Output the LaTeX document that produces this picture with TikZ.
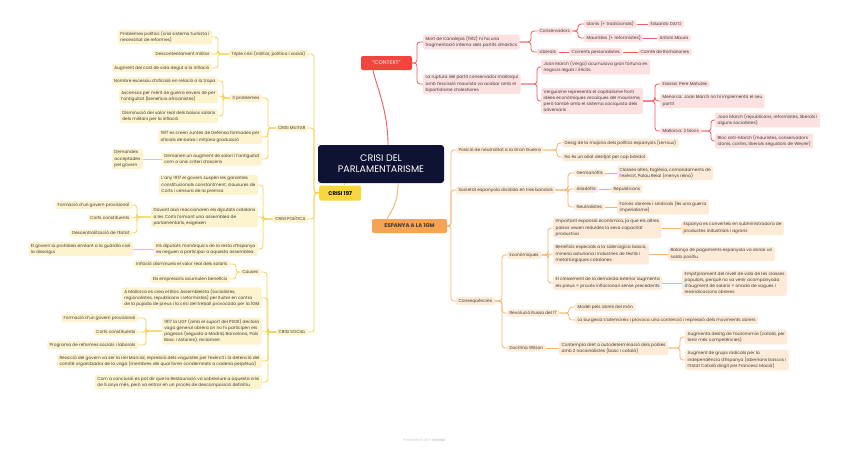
\documentclass[tikz,border=0pt]{standalone}
\usepackage{fontspec}
\setmainfont{Poppins}
\definecolor{txt}{HTML}{3B3B3B}
\definecolor{ylline}{HTML}{F6D04D}
\definecolor{ylfill}{HTML}{FDF3CF}
\definecolor{ylmain}{HTML}{F8D63E}
\definecolor{rdline}{HTML}{F25A5A}
\definecolor{rdfill}{HTML}{FDE0E0}
\definecolor{rdmain}{HTML}{F2453D}
\definecolor{orline}{HTML}{F7B267}
\definecolor{orfill}{HTML}{FDEBD7}
\definecolor{ormain}{HTML}{F6A354}
\definecolor{navy}{HTML}{0E1233}
\tikzset{
  base/.style={rounded corners=2pt, inner xsep=2.4pt, inner ysep=1.8pt, align=left, text=txt,
    font=\fontsize{4.3}{6.2}\selectfont},
  yb/.style={base, fill=ylfill},
  rb/.style={base, fill=rdfill},
  ob/.style={base, fill=orfill},
  L/.style={anchor=east},
  R/.style={anchor=west},
  yl/.style={draw=ylline, line width=0.8pt, rounded corners=3pt},
  rl/.style={draw=rdline, line width=0.8pt, rounded corners=3pt},
  ol/.style={draw=orline, line width=0.8pt, rounded corners=3pt},
}
\begin{document}
\begin{tikzpicture}[x=1pt,y=-1pt]
\useasboundingbox[fill=white] (0,0) rectangle (848,451);
% ---------- main topics
\node[fill=navy, text=white, rounded corners=3pt, minimum width=126pt, minimum height=38pt, align=center,
  font=\fontsize{9.5}{11}\selectfont] (C) at (381,164) {CRISI DEL\\PARLAMENTARISME};
\node[base, fill=ylmain, text=black, anchor=west, minimum width=42pt, minimum height=15pt, align=center,
  font=\fontsize{5.4}{6}\bfseries] (Y) at (319,193) {CRISI 197};
\node[base, fill=rdmain, text=white, minimum width=51pt, minimum height=14pt, align=center,
  font=\fontsize{5.4}{6}\selectfont] (CT) at (386.5,63) {“CONTEXT”};
\node[base, fill=ormain, text=txt, minimum width=75pt, minimum height=14pt, align=center,
  font=\fontsize{5.4}{6}\bfseries] (ES) at (409.5,226) {ESPANYA A LA 1GM};
\coordinate (Cr) at (388,183);
\coordinate (Ce) at (398,183);
\coordinate (Cy) at (344,183);
\coordinate (Eend) at (387,219);
\draw[rdline, line width=0.9pt] (C.north -| Cr) .. controls (388,110) and (376,85) .. (CT.south -| 373,0);
\draw[orline, line width=0.9pt] (Ce) .. controls (398,203) and (392,210) .. (Eend);
\draw[ylline, line width=0.9pt] (Cy) -- (Y.north -| Cy);

% ---------- LEFT (yellow)
\node[yb,L] (T1) at (308,54) {Triple crisi (militar, política i social)};
\node[yb,L] (M) at (308,128) {CRISI MILITAR};
\node[yb,L] (P) at (308,219) {CRISI POLÍTICA};
\node[yb,L] (S) at (308,332) {CRISI SOCIAL};
\foreach \c in {T1,M,P,S} \draw[yl] (\c.east) -- ++(6,0) |- (Y.west);

\node[yb,L] (T1a) at (212,37) {Problemes polítics (crisi sistema turnista i\\necessitat de reformes)};
\node[yb,L] (T1b) at (212,54) {Descontentament militar};
\node[yb,L] (T1c) at (212,68) {Augment del cost de vida degut a la inflació};
\foreach \c in {T1a,T1b,T1c} \draw[yl] (\c.east) -- ++(6,0) |- (T1.west);

\node[yb,L] (M1) at (262,98) {3 problemes};
\node[yb,L] (M2) at (262,137) {1917 es creen Juntes de Defensa formades per\\oficials de baixa i mitjana graduació};
\node[yb,L] (M3) at (262,159) {Demanen un augment de salari i l'antiguitat\\com a únic criteri d'ascens};
\foreach \c in {M1,M2,M3} \draw[yl] (\c.east) -- ++(6,0) |- (M.west);

\node[yb,L] (M1a) at (218,81) {Nombre excessiu d'oficials en relació a la tropa};
\node[yb,L] (M1b) at (218,96) {Ascensos per mèrit de guerra envers de per\\l'antiguitat (beneficia africanistes)};
\node[yb,L] (M1c) at (218,116) {Disminució del valor real dels baixos salaris\\dels militars per la inflació};
\foreach \c in {M1a,M1b,M1c} \draw[yl] (\c.east) -- ++(5,0) |- (M1.west);

\node[yb,L] (M3a) at (143,159) {Demandes\\acceptades\\pel govern};
\draw[yl] (M3a.east) -- (M3.west);

\node[yb,L] (P1) at (258,185) {L'any 1917 el govern suspèn les garanties\\constitucionals constantment, clausures de\\Corts i censura de la premsa};
\node[yb,L] (P2) at (258,217) {Davant això reaccionaren els diputats catalans\\a les Corts formant una assemblea de\\parlamentaris, exigeixen};
\node[yb,L] (P3) at (258,249) {Els diputats monàrquics de la resta d'Espanya\\es neguen a participar a aquesta assemblea};
\foreach \c in {P1,P2,P3} \draw[yl] (\c.east) -- ++(5,0) |- (P.west);

\node[yb,L] (P2a) at (132,205) {Formació d'un govern provisional};
\node[yb,L] (P2b) at (132,218) {Corts constituents};
\node[yb,L] (P2c) at (132,233) {Descentralització de l'Estat};
\foreach \c in {P2a,P2b,P2c} \draw[yl] (\c.east) -- ++(5,0) |- (P2.west);

\node[yb,L] (P3a) at (133,249) {El govern la prohibeix enviant a la guàrdia civil\\la dissolgui};
\draw[yl] (P3a.east) -- (P3.west);

\node[yb,L] (S1) at (261,272) {Causes};
\node[yb,L] (S2) at (262,298) {A Mallorca es crea el Bloc Assembleista (socialistes,\\regionalistes, republicans i reformistes) per lluitar en contra\\de la pujada de preus i la crisi del treball provocada per la 1GM};
\node[yb,L] (S3) at (262,331) {1917 la UGT (amb el suport del PSOE) declara\\vaga general obrera on no hi participen els\\pagesos (seguida a Madrid, Barcelona, País\\Basc i Astúries), reclamen:};
\node[yb,L] (S4) at (262,361) {Reacció del govern va ser la Llei Marcial, repressió dels vaguistes per l'exèrcit i la detenció del\\comitè organitzador de la vaga (membres del qual foren condemnats a cadena perpètua)};
\node[yb,L] (S5) at (262,382) {Com a conclusió es pot dir que la Restauració va sobreviure a aquesta crisi\\de 5 anys més, però va entrar en un procés de descomposició definitiu};
\foreach \c in {S1,S2,S3,S4,S5} \draw[yl] (\c.east) -- ++(6,0) |- (S.west);

\node[yb,L] (S1a) at (230,264) {Inflació disminueix el valor real dels salaris};
\node[yb,L] (S1b) at (230,279) {Els empresaris acumulen beneficis};
\foreach \c in {S1a,S1b} \draw[yl] (\c.east) -- ++(6,0) |- (S1.west);

\node[yb,L] (S3a) at (138,318) {Formació d'un govern provisional};
\node[yb,L] (S3b) at (138,332) {Corts constituents};
\node[yb,L] (S3c) at (138,345) {Programa de reformes socials i laborals};
\foreach \c in {S3a,S3b,S3c} \draw[yl] (\c.east) -- ++(8,0) |- (S3.west);

% ---------- RIGHT top (red)
\node[rb,R] (R1) at (423,42) {Mort de Canalejas (1912) hi ha una\\fragmentació interna dels partits dinàstics};
\node[rb,R] (R2) at (423,84) {La ruptura del partit conservador mallorquí\\amb l'escissió maurista va acabar amb el\\bipartidisme d'aleshores};
\foreach \c in {R1,R2} \draw[rl] (\c.west) -- ++(-6,0) |- (CT.east);

\node[rb,R] (R1a) at (537,31) {Conservadors};
\node[rb,R] (R1b) at (537,52) {Liberals};
\foreach \c in {R1a,R1b} \draw[rl] (\c.west) -- ++(-6,0) |- (R1.east);

\node[rb,R] (R1a1) at (584,24) {Idonis (+ tradicionals)};
\node[rb,R] (R1a2) at (584,38) {Mauristes (+ reformistes)};
\foreach \c in {R1a1,R1a2} \draw[rl] (\c.west) -- ++(-6,0) |- (R1a.east);
\node[rb,R] (R1a1x) at (648,24) {Eduardo DATO};
\draw[rl] (R1a1.east) -- (R1a1x.west);
\node[rb,R] (R1a2x) at (657,38) {Antoni Maura};
\draw[rl] (R1a2.east) -- (R1a2x.west);
\node[rb,R] (R1b1) at (569,52) {Corrents personalistes};
\draw[rl] (R1b.east) -- (R1b1.west);
\node[rb,R] (R1b2) at (638,52) {Comte de Romanones};
\draw[rl] (R1b1.east) -- (R1b2.west);

\node[rb,R] (R2a) at (541,67) {Joan March (Verga) acumulava gran fortuna en\\negocis legals i il·lícits.};
\node[rb,R] (R2b) at (541,101) {Verguisme representa el capitalisme front\\idees econòmiques arcaiques del maurisme,\\però també amb el sistema caciquista dels\\adversaris};
\foreach \c in {R2a,R2b} \draw[rl] (\c.west) -- ++(-4,0) |- (R2.east);

\node[rb,R] (R2b1) at (660,84) {Eivissa: Pere Matutes};
\node[rb,R] (R2b2) at (660,101) {Menorca: Joan March no hi implementa el seu\\partit};
\node[rb,R] (R2b3) at (660,131) {Mallorca: 2 blocs};
\foreach \c in {R2b1,R2b2,R2b3} \draw[rl] (\c.west) -- ++(-5,0) |- (R2b.east);

\node[rb,R] (R2b3a) at (715,120) {Joan March (republicans, reformistes, liberals i\\alguns socialistes)};
\node[rb,R] (R2b3b) at (715,141) {Bloc anti-March (mauristes, conservadors\\idonis, carlins, liberals seguidors de Weyler)};
\foreach \c in {R2b3a,R2b3b} \draw[rl] (\c.west) -- ++(-4,0) |- (R2b3.east);

% ---------- RIGHT bottom (orange)
\node[ob,R] (O1) at (456,150) {Posició de neutralitat a la Gran Guerra};
\node[ob,R] (O2) at (456,190) {Societat espanyola dividida en tres bandols};
\node[ob,R] (O3) at (456,301) {Conseqüències};
\foreach \c in {O1,O2,O3} \draw[ol] (\c.west) -- ++(-5,0) |- (ES.east);

\node[ob,R] (O1a) at (562,143) {Desig de la majoria dels polítics espanyols (Lerroux)};
\node[ob,R] (O1b) at (562,157) {No és un aliat desitjat per cap bàndol};
\foreach \c in {O1a,O1b} \draw[ol] (\c.west) -- ++(-5,0) |- (O1.east);

\node[ob,R] (O2a) at (574,173) {Germanòfils};
\node[ob,R] (O2b) at (574,189) {Aliadòfils};
\node[ob,R] (O2c) at (574,207) {Neutralistes};
\foreach \c in {O2a,O2b,O2c} \draw[ol] (\c.west) -- ++(-6,0) |- (O2.east);
\node[ob,R] (O2a1) at (617,173) {Classes altes, Església, comandaments de\\l'exèrcit, Palau Reial (menys reina)};
\draw[ol] (O2a.east) -- (O2a1.west);
\node[ob,R] (O2b1) at (611,189) {Republicans};
\draw[ol] (O2b.east) -- (O2b1.west);
\node[ob,R] (O2c1) at (617,207) {Forces obreres i sindicals (és una guerra\\imperialisme)};
\draw[ol] (O2c.east) -- (O2c1.west);

\node[ob,R] (O3a) at (507,255) {Econòmiques};
\node[ob,R] (O3b) at (507,313) {Revolució Russa del 17};
\node[ob,R] (O3c) at (507,348) {Doctrina Wilson};
\foreach \c in {O3a,O3b,O3c} \draw[ol] (\c.west) -- ++(-5,0) |- (O3.east);

\node[ob,R] (E1) at (553,228) {Important expansió econòmica, ja que els altres\\països veuen reduïdes la seva capacitat\\productiva};
\node[ob,R] (E2) at (553,254) {Beneficis especials a la siderúrgica basca,\\mineria asturiana i indústries de tèxtils i\\metal·lúrgiques catalanes};
\node[ob,R] (E3) at (553,283) {El creixement de la demanda exterior augmenta\\els preus = procés inflacionari sense precedents};
\foreach \c in {E1,E2,E3} \draw[ol] (\c.west) -- ++(-5,0) |- (O3a.east);
\node[ob,R] (E1x) at (681,228) {Espanya es converteix en subministradora de\\productes industrials i agraris};
\draw[ol] (E1.east) -- (E1x.west);
\node[ob,R] (E2x) at (668,254) {Balança de pagaments espanyola va donar un\\saldo positiu};
\draw[ol] (E2.east) -- (E2x.west);
\node[ob,R] (E3x) at (682,283) {Empitjorament del nivell de vida de les classes\\populars, perquè no va venir acompanyada\\d'augment de salaris = onada de vagues i\\reivindicacions obreres};
\draw[ol] (E3.east) -- (E3x.west);

\node[ob,R] (RR1) at (575,307) {Model pels obres del món};
\node[ob,R] (RR2) at (575,320) {La burgesia s'atemoreix i provoca una contenció i repressió dels moviments obrers};
\foreach \c in {RR1,RR2} \draw[ol] (\c.west) -- ++(-6,0) |- (O3b.east);

\node[ob,R] (W1) at (559,348) {Contempla dret a autodeterminació dels pobles\\amb 2 nacionalistes (basc i català)};
\draw[ol] (O3c.east) -- (W1.west);
\node[ob,R] (W1a) at (685,337) {Augmenta desitg de l'autonomia (català, per\\tenir més competències)};
\node[ob,R] (W1b) at (685,360) {Augment de grups radicals per la\\independència d'Espanya (aberrians bascos i\\l'Estat Català dirigit per Francesc Macià)};
\foreach \c in {W1a,W1b} \draw[ol] (\c.west) -- ++(-5,0) |- (W1.east);

\node[text=black!20, font=\fontsize{3.8}{4}\selectfont] (wm) at (424,440) {Presented with \textbf{xmind}};
\end{tikzpicture}
\end{document}
